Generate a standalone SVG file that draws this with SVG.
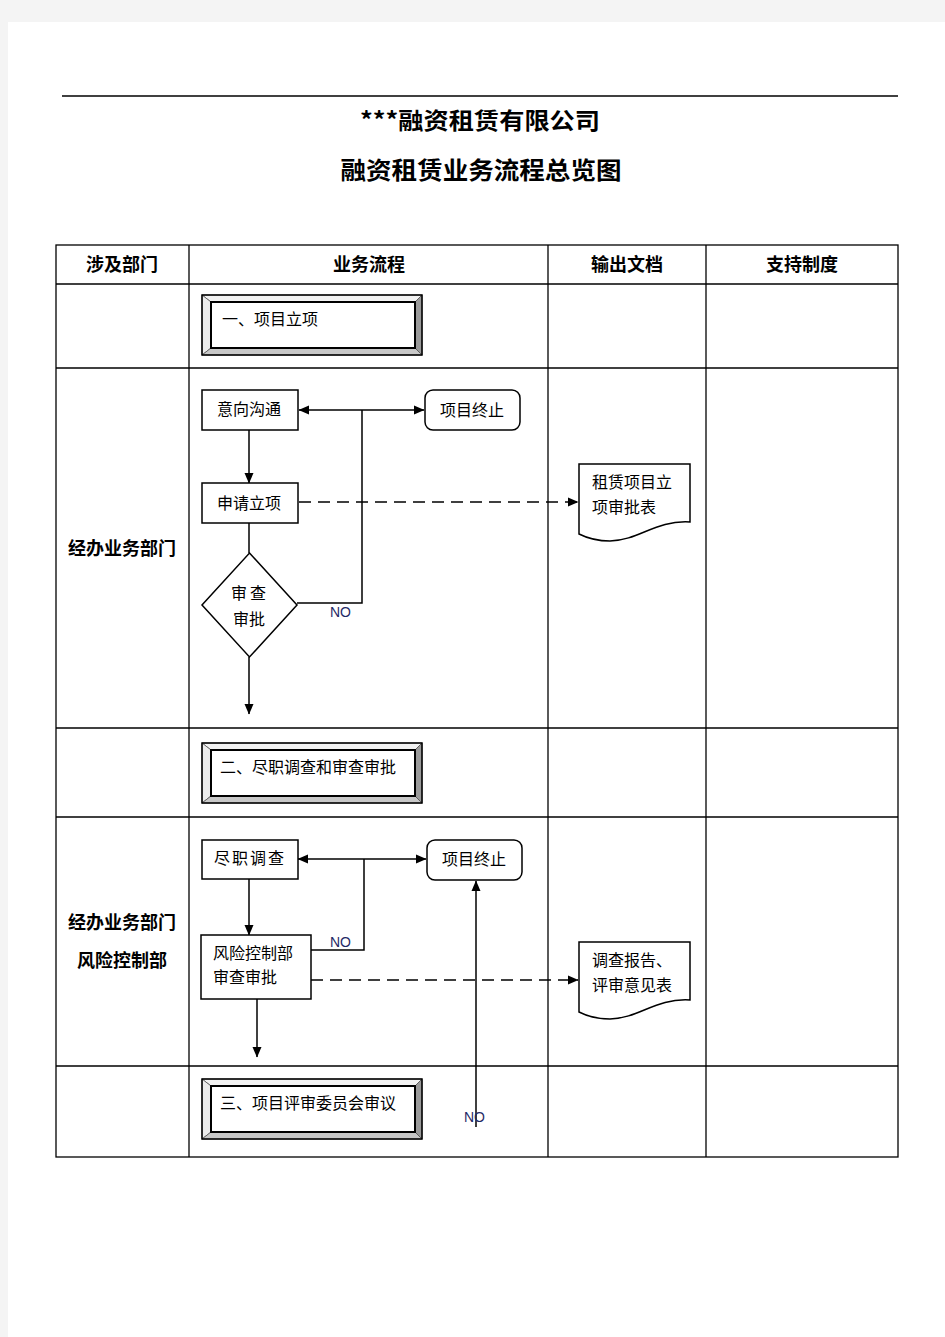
<svg xmlns="http://www.w3.org/2000/svg" width="945" height="1337" viewBox="0 0 945 1337">
<style>
.bg{fill:#f4f4f4}
.page{fill:#ffffff}
.grid{stroke:#000;stroke-width:1.3;fill:none}
.hdr{font-family:"Noto Sans CJK SC",sans-serif;font-size:18px;font-weight:bold;fill:#000;text-anchor:middle}
.title{font-family:"Noto Sans CJK SC",sans-serif;font-weight:bold;fill:#000;text-anchor:middle}
.t{font-family:"Noto Sans CJK SC",sans-serif;font-size:16px;fill:#000}
.c{text-anchor:middle}
.no{font-family:"Liberation Sans",Arial,sans-serif;font-size:14px;fill:#1f2a66}
.box{fill:#fff;stroke:#000;stroke-width:1.5}
.conn{stroke:#000;stroke-width:1.5;fill:none}
.dash{stroke:#000;stroke-width:1.5;fill:none;stroke-dasharray:12,7}
.bev-o{fill:none;stroke:#000;stroke-width:1.5}
.bev-i{fill:#fff;stroke:#000;stroke-width:2}
.bt{fill:#f2f2f2;stroke:#555;stroke-width:0.8}
.bl{fill:#ececec;stroke:#555;stroke-width:0.8}
.bb{fill:#c8c8c8;stroke:#555;stroke-width:0.8}
.br{fill:#9a9a9a;stroke:#555;stroke-width:0.8}
</style>
<defs>
<marker id="arr" markerUnits="userSpaceOnUse" markerWidth="11" markerHeight="10" refX="10" refY="5" orient="auto-start-reverse" viewBox="0 0 11 10">
<path d="M0,0.5 L10.5,5 L0,9.5 Z" fill="#000"/>
</marker>
<g id="bevel">
<polygon class="bt" points="0,0 220,0 213,7 9,7"/>
<polygon class="bl" points="0,0 9,7 9,53 0,60"/>
<polygon class="bb" points="0,60 9,53 213,53 220,60"/>
<polygon class="br" points="220,0 213,7 213,53 220,60"/>
<rect class="bev-i" x="9" y="7" width="204" height="46"/>
<rect class="bev-o" x="0" y="0" width="220" height="60"/>
</g>
</defs>
<rect class="bg" x="0" y="0" width="945" height="1337"/>
<rect class="page" x="8" y="22" width="937" height="1315"/>
<line x1="62" y1="96" x2="898" y2="96" stroke="#000" stroke-width="1.3"/>
<text class="title" x="480" y="129" font-size="23" textLength="240" lengthAdjust="spacingAndGlyphs">***融资租赁有限公司</text>
<text class="title" x="481" y="179" font-size="24" textLength="281" lengthAdjust="spacingAndGlyphs">融资租赁业务流程总览图</text>

<g id="table">
<rect class="grid" x="56" y="245" width="842" height="912"/>
<line class="grid" x1="189" y1="245" x2="189" y2="1157"/>
<line class="grid" x1="548" y1="245" x2="548" y2="1157"/>
<line class="grid" x1="706" y1="245" x2="706" y2="1157"/>
<line class="grid" x1="56" y1="284" x2="898" y2="284"/>
<line class="grid" x1="56" y1="368" x2="898" y2="368"/>
<line class="grid" x1="56" y1="728" x2="898" y2="728"/>
<line class="grid" x1="56" y1="817" x2="898" y2="817"/>
<line class="grid" x1="56" y1="1066" x2="898" y2="1066"/>
<text class="hdr" x="122" y="271">涉及部门</text>
<text class="hdr" x="369" y="271">业务流程</text>
<text class="hdr" x="627" y="271">输出文档</text>
<text class="hdr" x="802" y="271">支持制度</text>
<text class="hdr" x="122" y="555">经办业务部门</text>
<text class="hdr" x="122" y="929">经办业务部门</text>
<text class="hdr" x="122" y="967">风险控制部</text>
</g>

<g id="connectors">
<line class="conn" x1="299" y1="410" x2="424" y2="410" marker-start="url(#arr)" marker-end="url(#arr)"/>
<line class="conn" x1="249" y1="430" x2="249" y2="483" marker-end="url(#arr)"/>
<line class="conn" x1="249" y1="523" x2="249" y2="553"/>
<polyline class="conn" points="297,603 362,603 362,410"/>
<line class="conn" x1="249" y1="657" x2="249" y2="714" marker-end="url(#arr)"/>
<line class="dash" x1="299" y1="502" x2="578" y2="502" marker-end="url(#arr)"/>
<line class="conn" x1="298" y1="859" x2="426" y2="859" marker-start="url(#arr)" marker-end="url(#arr)"/>
<polyline class="conn" points="311,950 364,950 364,859"/>
<line class="conn" x1="249" y1="879" x2="249" y2="935" marker-end="url(#arr)"/>
<line class="dash" x1="311" y1="980" x2="578" y2="980" marker-end="url(#arr)"/>
<line class="conn" x1="257" y1="999" x2="257" y2="1057" marker-end="url(#arr)"/>
<line class="conn" x1="476" y1="1127" x2="476" y2="881" marker-end="url(#arr)"/>
<text class="no" x="330" y="617">NO</text>
<text class="no" x="330" y="947">NO</text>
<text class="no" x="464" y="1122">NO</text>
</g>

<g id="stage1">
<use href="#bevel" x="202" y="295"/>
<text class="t" x="222" y="325">一、项目立项</text>
</g>
<g id="yixiang">
<rect class="box" x="202" y="390" width="96" height="40"/>
<text class="t c" x="249" y="415">意向沟通</text>
</g>
<g id="zhongzhi1">
<rect class="box" x="425" y="390" width="95" height="40" rx="8"/>
<text class="t c" x="472" y="416">项目终止</text>
</g>
<g id="shenqing">
<rect class="box" x="202" y="483" width="96" height="40"/>
<text class="t c" x="249" y="509">申请立项</text>
</g>
<g id="shencha1">
<polygon class="box" points="249.5,553 297,605 249.5,657 202,605"/>
<text class="t c" x="250" y="599" letter-spacing="3">审查</text>
<text class="t c" x="249" y="625">审批</text>
</g>
<g id="doc1">
<path class="box" d="M579,464 L690,464 L690,522 C655,520 640,540 610,541 C595,541 585,537 579,534 Z"/>
<text class="t" x="592" y="488">租赁项目立</text>
<text class="t" x="592" y="513">项审批表</text>
</g>

<g id="stage2">
<use href="#bevel" x="202" y="743"/>
<text class="t" x="220" y="773">二、尽职调查和审查审批</text>
</g>
<g id="jinzhi">
<rect class="box" x="202" y="840" width="96" height="39"/>
<text class="t c" x="250" y="864" letter-spacing="2">尽职调查</text>
</g>
<g id="zhongzhi2">
<rect class="box" x="427" y="840" width="95" height="40" rx="8"/>
<text class="t c" x="474" y="865">项目终止</text>
</g>
<g id="fengxian">
<rect class="box" x="201" y="935" width="110" height="64" stroke-width="2"/>
<text class="t" x="213" y="959">风险控制部</text>
<text class="t" x="213" y="983">审查审批</text>
</g>
<g id="doc2">
<path class="box" d="M579,942 L690,942 L690,1000 C655,998 640,1018 610,1019 C595,1019 585,1015 579,1012 Z"/>
<text class="t" x="592" y="966">调查报告、</text>
<text class="t" x="592" y="991">评审意见表</text>
</g>

<g id="stage3">
<use href="#bevel" x="202" y="1079"/>
<text class="t" x="220" y="1109">三、项目评审委员会审议</text>
</g>
</svg>
